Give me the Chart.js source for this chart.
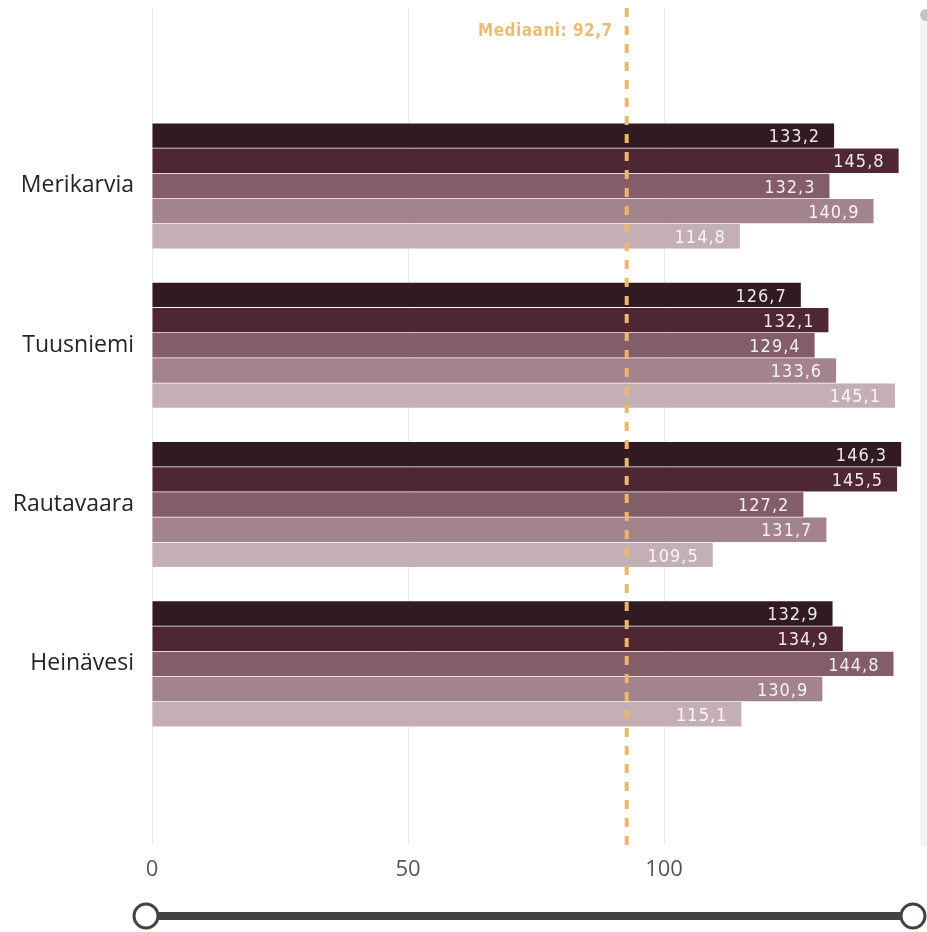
<!DOCTYPE html>
<html>
<head>
<meta charset="utf-8">
<script src="https://cdn.jsdelivr.net/npm/chart.js@4.4.1/dist/chart.umd.min.js"></script>
<style>
  html, body { margin: 0; padding: 0; background: #fff; }
  #wrap { position: relative; width: 927px; height: 932px; overflow: hidden; }
  #scroll { position: absolute; left: 920px; top: 18px; width: 10px; height: 828px; background: #f4f4f4; border-radius: 4px; }
  #dot { position: absolute; left: 920px; top: 9px; width: 12px; height: 12px; border-radius: 6px; background: #c4c4c4; }
  #slider { position: absolute; left: 0; top: 0; }
</style>
</head>
<body>
<div id="wrap">
  <canvas id="chart" width="927" height="932"></canvas>
  <div id="scroll"></div>
  <div id="dot"></div>
  <svg id="slider" width="927" height="932">
    <line x1="147" y1="916" x2="913" y2="916" stroke="#454340" stroke-width="8"/>
    <circle cx="146" cy="916" r="12" fill="#fff" stroke="#454340" stroke-width="3"/>
    <circle cx="913" cy="916" r="12" fill="#fff" stroke="#454340" stroke-width="3"/>
  </svg>
</div>
<script>
// municipalities (y axis)
const categories = ["Merikarvia", "Tuusniemi", "Rautavaara", "Heinävesi"];

// five series per municipality, top bar to bottom bar
const series1 = [133.2, 126.7, 146.3, 132.9];
const series2 = [145.8, 132.1, 145.5, 134.9];
const series3 = [132.3, 129.4, 127.2, 144.8];
const series4 = [140.9, 133.6, 131.7, 130.9];
const series5 = [114.8, 145.1, 109.5, 115.1];

const seriesColors = ["#311a21", "#4e2733", "#835d68", "#a3848c", "#c4afb4"];

const medianValue = 92.7;
const xTicks = [0, 50, 100];

const allSeries = [series1, series2, series3, series4, series5];

const fmt = (v) => v.toFixed(1).replace(".", ",");

// value labels inside bar end
const valueLabels = {
  id: "valueLabels",
  afterDatasetsDraw(chart) {
    const ctx = chart.ctx;
    ctx.save();
    ctx.font = "18px 'DejaVu Sans Condensed', 'Liberation Sans Narrow', sans-serif";
    ctx.letterSpacing = "1px";
    ctx.fillStyle = "rgba(255,255,255,0.9)";
    ctx.textAlign = "right";
    ctx.textBaseline = "middle";
    chart.data.datasets.forEach((ds, di) => {
      chart.getDatasetMeta(di).data.forEach((bar, i) => {
        ctx.fillText(fmt(ds.data[i].x), bar.x - 14, bar.y + 2);
      });
    });
    ctx.restore();
  },
};

// dashed median line with label
const medianLine = {
  id: "medianLine",
  afterDatasetsDraw(chart) {
    const ctx = chart.ctx;
    const x = chart.scales.x.getPixelForValue(medianValue);
    const area = chart.chartArea;
    ctx.save();
    ctx.strokeStyle = "#e9b868";
    ctx.lineWidth = 4;
    ctx.setLineDash([9, 9]);
    ctx.beginPath();
    ctx.moveTo(x, area.top);
    ctx.lineTo(x, area.bottom);
    ctx.stroke();
    ctx.setLineDash([]);
    ctx.fillStyle = "#ebbd72";
    ctx.font = "bold 17px 'DejaVu Sans Condensed', 'Liberation Sans Narrow', sans-serif";
    ctx.letterSpacing = "0.5px";
    ctx.textAlign = "right";
    ctx.textBaseline = "middle";
    ctx.fillText("Mediaani: " + fmt(medianValue), x - 14, 32);
    ctx.restore();
  },
};

const ctx = document.getElementById("chart").getContext("2d");

new Chart(ctx, {
  type: "bar",
  data: {
    datasets: allSeries.map((s, si) => ({
      label: "Sarja " + (si + 1),
      data: s.map((v, i) => ({ x: v, y: i })),
      backgroundColor: seriesColors[si],
      borderWidth: 0,
      categoryPercentage: 0.79,
      barPercentage: 0.97,
    })),
  },
  options: {
    indexAxis: "y",
    responsive: false,
    animation: false,
    layout: { padding: { top: 8, right: 12, left: 0, bottom: 0 } },
    plugins: {
      legend: { display: false },
      tooltip: { enabled: false },
    },
    scales: {
      x: {
        type: "linear",
        bounds: "data",
        offset: false,
        min: 0,
        max: 149,
        afterBuildTicks: (s) => { s.ticks = xTicks.map((v) => ({ value: v })); },
        afterFit: (s) => { s.height = 87; },
        grid: { color: "#e9e9e9", lineWidth: 1, drawTicks: false },
        border: { display: false },
        ticks: {
          padding: 12,
          color: "#555",
          font: { family: "'Open Sans', 'Noto Sans', sans-serif", size: 22 },
        },
      },
      y: {
        type: "linear",
        bounds: "data",
        offset: false,
        reverse: true,
        min: -1.117,
        max: 4.137,
        afterBuildTicks: (s) => { s.ticks = categories.map((c, i) => ({ value: i })); },
        afterFit: (s) => { s.width = 152; s.paddingTop = 0; s.paddingBottom = 0; },
        grid: { display: false, drawTicks: false },
        border: { display: false },
        ticks: {
          padding: 18,
          color: "#252423",
          font: { family: "'Open Sans', 'Noto Sans', sans-serif", size: 23 },
          callback: (v) => categories[v],
        },
      },
    },
  },
  plugins: [valueLabels, medianLine],
});
</script>
</body>
</html>
